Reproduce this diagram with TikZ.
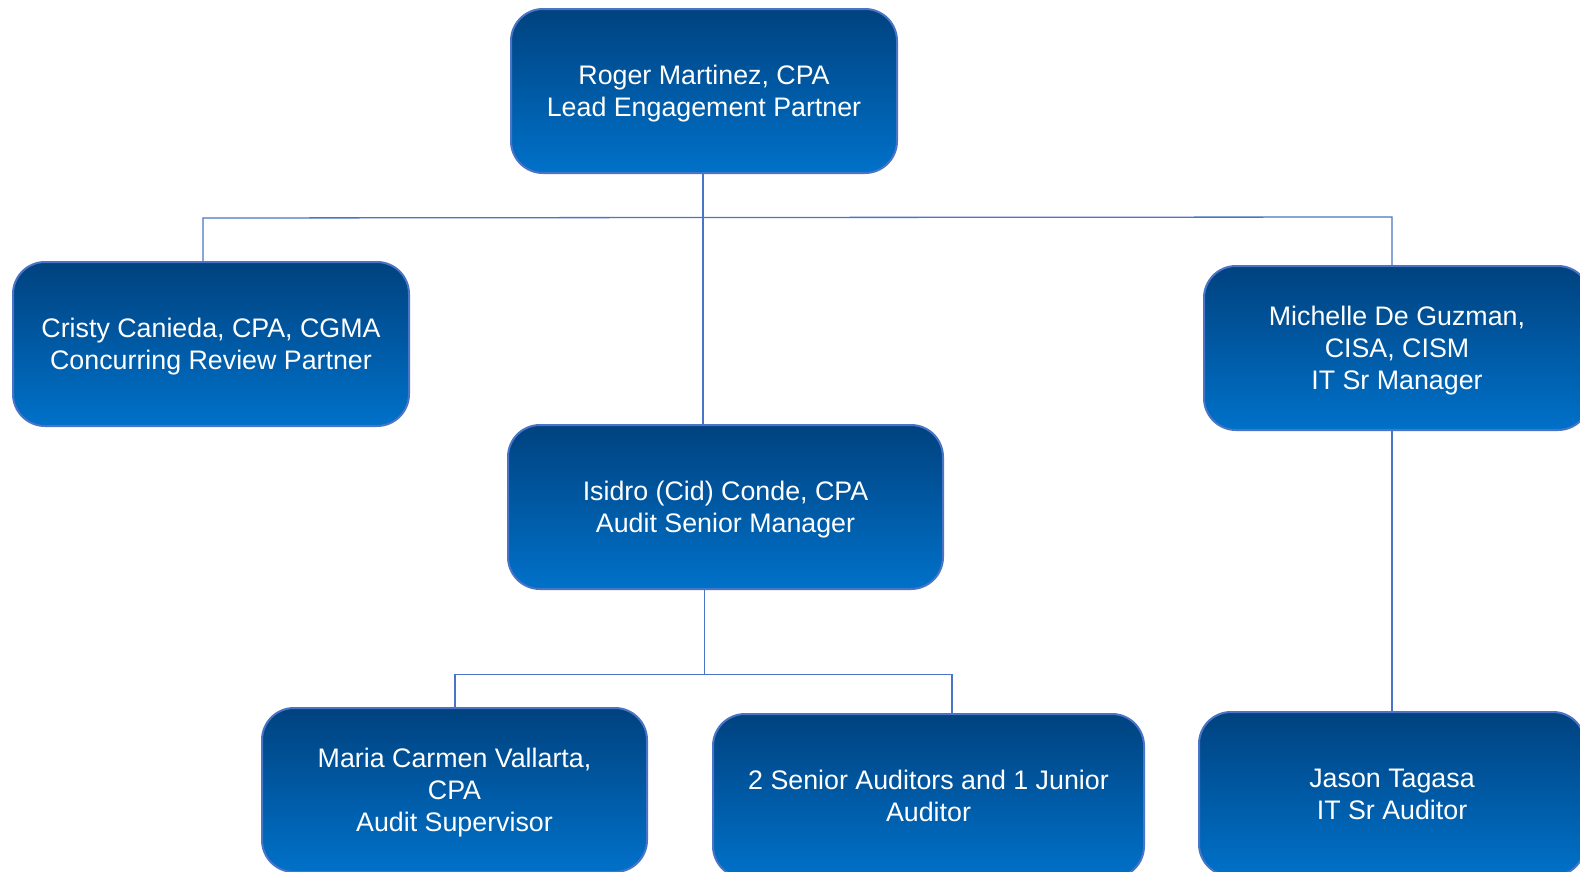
\documentclass[tikz,border=0pt]{standalone}
\usepackage{fontspec}
\setmainfont{Liberation Sans}
\usetikzlibrary{positioning}
\definecolor{boxtop}{HTML}{00427F}
\definecolor{boxbot}{HTML}{0071C9}
\definecolor{boxline}{HTML}{4A74C6}
\tikzset{
  person/.style={rectangle, rounded corners=32pt, draw=boxline, line width=2pt,
    top color=boxtop, bottom color=boxbot, text=white, align=center, text depth=0pt,
    font=\fontsize{26.8}{32.2}\selectfont, minimum height=164pt, inner sep=0pt},
  link/.style={draw=boxline, line width=1.3pt}
}
\begin{document}
\begin{tikzpicture}[x=1pt, y=-1pt]
% 1. page
\fill[white] (0,0) rectangle (1580,871);
\useasboundingbox (0,0) rectangle (1580,871);

% 2. boxes
\node[person, minimum width=386pt] (lead) at (704, 91) {Roger Martinez, CPA\\Lead Engagement Partner};
\node[person, minimum width=396pt] (review) at (211, 344) {Cristy Canieda, CPA, CGMA\\Concurring Review Partner};
\node[person, minimum width=386pt] (itmgr) at (1397, 348) {Michelle De Guzman,\\CISA, CISM\\IT Sr Manager};
\node[person, minimum width=435pt] (senmgr) at (725.5, 507) {Isidro (Cid) Conde, CPA\\Audit Senior Manager};
\node[person, minimum width=385pt] (super) at (454.5, 790) {Maria Carmen Vallarta,\\CPA\\Audit Supervisor};
\node[person, minimum width=431pt] (staff) at (928.5, 796) {2 Senior Auditors and 1 Junior\\Auditor};
\node[person, minimum width=386pt] (itaud) at (1392, 794) {Jason Tagasa\\IT Sr Auditor};

% 3. junctions
\coordinate (busL) at (203, 218);
\coordinate (busM) at (703, 217.5);
\coordinate (busR) at (1392, 217);
\coordinate (subM) at (704.5, 674.5);
\coordinate (subL) at (455, 674.5);
\coordinate (subR) at (952, 674.5);

% 4. connectors
\draw[link] (busM |- lead.south) -- (busM |- senmgr.north);
\draw[link] (busL |- review.north) -- (busL) -- (busM) -- (busR) -- (busR |- itmgr.north);
\draw[link] (busR |- itmgr.south) -- (busR |- itaud.north);
\draw[link] (subM |- senmgr.south) -- (subM);
\draw[link] (subL |- super.north) -- (subL) -- (subR) -- (subR |- staff.north);
\end{tikzpicture}
\end{document}
